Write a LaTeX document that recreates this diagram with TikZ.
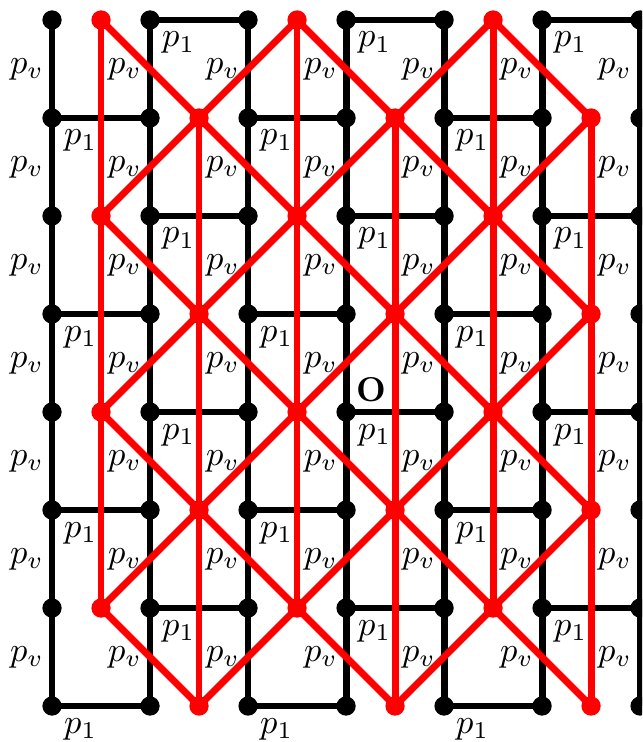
\documentclass[tikz,border=0pt]{standalone}
\usepackage{amsmath,amssymb}
\usepackage{xcolor}
\usepackage{tikz}
\usetikzlibrary{positioning, calc}

\begin{document}
\begin{tikzpicture}[
    bdot/.style={circle, fill=black, inner sep=0pt, minimum size=5.6pt},
    rdot/.style={circle, fill=red, inner sep=0pt, minimum size=5.6pt},
    bline/.style={line width=2pt, black},
    rline/.style={line width=2pt, red},
    vlab/.style={left, inner sep=2.2pt},
    hlab/.style={below right}
]
\clip (-3.531,-3.367) rectangle (3.020,4.204);

% black lattice
\foreach \c in {0,...,6}
  \foreach \r in {0,...,7}
    \node[bdot] (b\c\r) at ({\c-3},{\r-3}) {};

\foreach \c in {0,...,6}
  \foreach \r [count=\s] in {0,...,6}{
    \draw[bline] (b\c\r.center) -- (b\c\s.center);
    \node[vlab] (pv\c\r) at ({\c-3},{\r-2.5}) {$p_v$};
  }

\foreach \c in {0,...,5}{
  \pgfmathtruncatemacro\d{\c+1}
  \pgfmathtruncatemacro\o{mod(\c,2)}
  \foreach \m in {0,...,3}{
    \pgfmathtruncatemacro\r{2*\m+\o}
    \draw[bline] (b\c\r.center) -- (b\d\r.center);
    \node[hlab] (po\c\r) at (b\c\r.center) {$p_1$};
  }
}

\node[above right, inner sep=2.8pt] (orig) at (b33.center) {\textbf{O}};

% red lattice
\foreach \k in {0,...,5}{
  \pgfmathtruncatemacro\o{1-mod(\k,2)}
  \foreach \m in {0,...,3}{
    \pgfmathtruncatemacro\r{2*\m+\o}
    \node[rdot] (r\k\r) at ({\k-2.5},{\r-3}) {};
  }
}

\foreach \k in {0,...,5}{
  \pgfmathtruncatemacro\o{1-mod(\k,2)}
  \foreach \m in {0,...,2}{
    \pgfmathtruncatemacro\r{2*\m+\o}
    \pgfmathtruncatemacro\s{\r+2}
    \draw[rline] (r\k\r.center) -- (r\k\s.center);
  }
}

\foreach \k in {0,...,4}{
  \pgfmathtruncatemacro\kk{\k+1}
  \pgfmathtruncatemacro\o{1-mod(\k,2)}
  \foreach \m in {0,...,3}{
    \pgfmathtruncatemacro\r{2*\m+\o}
    \pgfmathtruncatemacro\up{\r+1}
    \pgfmathtruncatemacro\dn{\r-1}
    \ifnum\up<8 \draw[rline] (r\k\r.center) -- (r\kk\up.center);\fi
    \ifnum\dn>-1 \draw[rline] (r\k\r.center) -- (r\kk\dn.center);\fi
  }
}

\end{tikzpicture}
\end{document}
